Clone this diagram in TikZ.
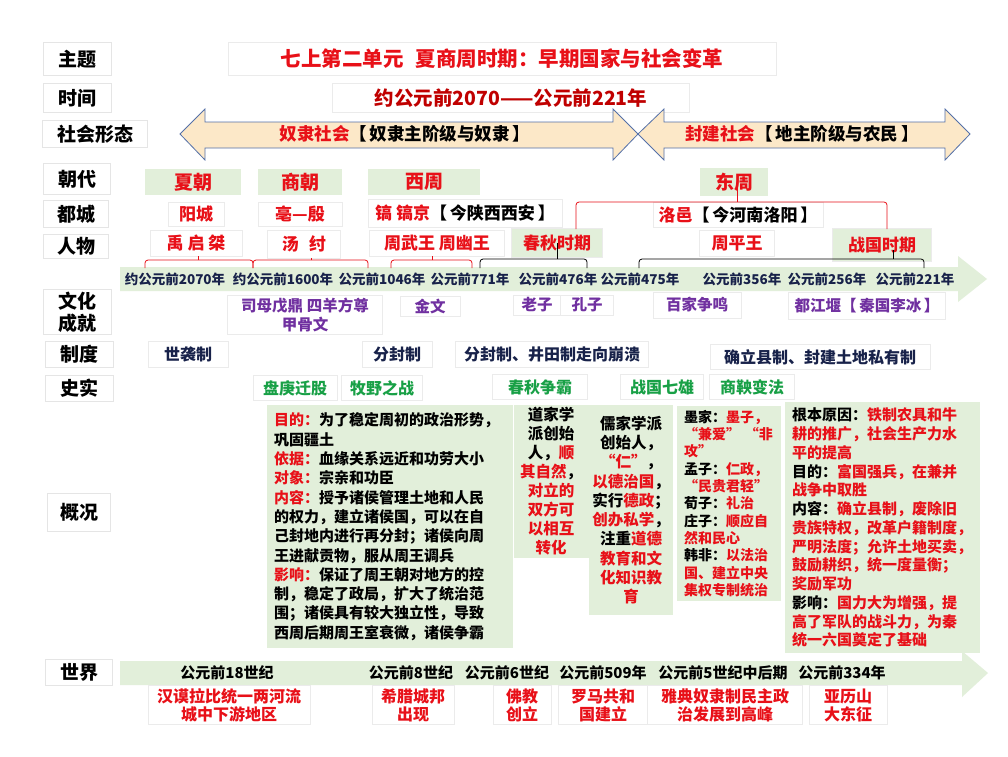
\documentclass[tikz,border=0pt]{standalone}
\usepackage{fontspec}
\setmainfont{Noto Sans CJK SC}
\definecolor{hred}{RGB}{232,16,24}
\definecolor{dred}{RGB}{192,0,0}
\definecolor{hpurple}{RGB}{112,48,160}
\definecolor{hnavy}{RGB}{24,34,74}
\definecolor{hgreen}{RGB}{24,160,70}
\definecolor{lgreen}{RGB}{226,239,218}
\definecolor{lorange}{RGB}{252,232,200}
\definecolor{arrblue}{RGB}{84,112,168}
\tikzset{
  sz/.style 2 args={minimum width=#1, minimum height=#2},
  lab/.style={draw=black!10, fill=white, inner sep=1pt, font=\fontsize{19}{22}\selectfont\bfseries},
  wbox/.style={draw=black!8, fill=white, inner sep=1pt},
  gbox/.style={fill=lgreen, inner sep=1pt},
  dyn/.style={gbox, text=hred, font=\fontsize{19}{21}\selectfont\bfseries},
  capbox/.style={wbox, text=hred, font=\fontsize{17}{19}\selectfont\bfseries},
  cul/.style={wbox, text=hpurple, align=center, font=\fontsize{15.5}{19}\selectfont\bfseries},
  sys/.style={wbox, text=hnavy, font=\fontsize{16}{18}\selectfont\bfseries},
  evt/.style={wbox, text=hgreen, font=\fontsize{16}{18}\selectfont\bfseries},
  wev/.style={wbox, text=hred, align=center, font=\fontsize{16}{18}\selectfont\bfseries},
  tl/.style={text=hnavy, inner sep=0pt, font=\fontsize{13.5}{15}\selectfont\bfseries},
  wtl/.style={text=black, inner sep=0pt, font=\fontsize{15}{17}\selectfont\bfseries},
  txt/.style={fill=lgreen, inner xsep=7pt, inner ysep=4pt, anchor=north west, align=left},
  rbr/.style={hred, line width=0.8pt, rounded corners=3pt},
  kbr/.style={black, line width=0.8pt, rounded corners=3pt},
}
\begin{document}
\begin{tikzpicture}[x=1pt, y=-1pt]
    % 画布
    \fill[white] (0,0) rectangle (1008,756);
    \useasboundingbox (0,0) rectangle (1008,756);

    % 左侧栏目
    \node[lab, sz={68}{33}] (zt) at (77,59) {主题};
    \node[lab, sz={68}{29}] (sj) at (77,98) {时间};
    \node[lab, sz={105}{27}] (shxt) at (95,134) {社会形态};
    \node[lab, sz={67}{31}] (cd) at (77,179) {朝代};
    \node[lab, sz={65}{27}] (dc) at (76,214) {都城};
    \node[lab, sz={65}{24}] (rw) at (76,246) {人物};
    \node[lab, sz={68}{45}, align=center] (whcj) at (77,312) {文化\\成就};
    \node[lab, sz={68}{26}] (zd) at (79,354) {制度};
    \node[lab, sz={68}{26}] (ss) at (79,388) {史实};
    \node[lab, sz={63}{38}] (gk) at (79,512) {概况};
    \node[lab, sz={67}{26}] (sjie) at (79,672) {世界};

    % 主题和时间
    \node[wbox, sz={548}{33}, text=hred, font=\fontsize{20.5}{22}\selectfont\bfseries] (title) at (502,59)
      {七上第二单元\hspace{0.6em}夏商周时期：早期国家与社会变革};
    \node[wbox, sz={357}{29}, text=dred, font=\fontsize{19.5}{21}\selectfont\bfseries] (time) at (511,98)
      {约公元前2070——公元前221年};

    % 社会形态箭头
    \filldraw[fill=lorange, draw=arrblue, line width=0.8pt]
      (180,134) -- (205,109) -- (205,122) -- (613,122) -- (613,109) -- (638,134)
      -- (613,160) -- (613,148) -- (205,148) -- (205,160) -- cycle;
    \filldraw[fill=lorange, draw=arrblue, line width=0.8pt]
      (638,134) -- (664,109) -- (664,122) -- (945,122) -- (945,109) -- (970,134)
      -- (945,160) -- (945,148) -- (664,148) -- (664,160) -- cycle;
    \node[font=\fontsize{17.5}{19}\selectfont\bfseries] (nlsh) at (405,134)
      {\textcolor{hred}{奴隶社会}【\,奴隶主阶级与奴隶\,】};
    \node[font=\fontsize{17.5}{19}\selectfont\bfseries] (fjsh) at (802,134)
      {\textcolor{hred}{封建社会}【\,地主阶级与农民\,】};

    % 时间轴
    \fill[lgreen] (120,267) -- (958,267) -- (958,256) -- (987,279) -- (958,302) -- (958,291) -- (120,291) -- cycle;
    \fill[lgreen] (120,661) -- (962,661) -- (962,651) -- (988,673) -- (962,697) -- (962,685) -- (120,685) -- cycle;

    % 朝代
    \node[dyn, sz={96}{26}] (xia) at (193,182) {夏朝};
    \node[dyn, sz={84}{26}] (shang) at (300,182) {商朝};
    \node[dyn, sz={112}{26}] (xz) at (424,182) {西周};
    \node[dyn, sz={68}{28}] (dz) at (734,182) {东周};

    % 都城
    \node[capbox, sz={56}{24}] (yc) at (196,214) {阳城};
    \node[capbox, sz={84}{24}] (by) at (300,214) {亳—殷};
    \node[capbox, sz={194}{28}, text=black] (hj) at (465,213) {\textcolor{hred}{镐 镐京}【\,今陕西西安\,】};
    \node[capbox, sz={170}{25}, text=black] (ly) at (738,215) {\textcolor{hred}{洛邑}【\,今河南洛阳\,】};

    % 人物
    \node[capbox, sz={92}{26}] (yqj) at (196,243) {禹 启 桀};
    \node[capbox, sz={73}{28}] (tz) at (304,244) {汤\hspace{0.6em}纣};
    \node[capbox, sz={135}{26}] (zw) at (437,243) {周武王 周幽王};
    \node[capbox, gbox, sz={91}{29}] (cq) at (557,243) {春秋时期};
    \node[capbox, sz={75}{26}] (zpw) at (737,243) {周平王};
    \node[capbox, gbox, sz={99}{33}] (zg) at (882,245) {战国时期};

    % 时间节点
    \foreach \x/\t in {175/约公元前2070年, 283/约公元前1600年, 382/公元前1046年,
                       470/公元前771年, 558/公元前476年, 640/公元前475年,
                       742/公元前356年, 827/公元前256年, 915/公元前221年}
    \node[tl] (d\x) at (\x,279) {\t};

    % 括号
    \coordinate (k1a) at (145,268); \coordinate (k1b) at (253,268); \coordinate (k1t) at (198,260);
    \coordinate (k2a) at (253,268); \coordinate (k2b) at (368,268); \coordinate (k2t) at (311,260);
    \coordinate (k3a) at (391,268); \coordinate (k3b) at (472,268); \coordinate (k3t) at (432,260);
    \coordinate (k4a) at (480,268); \coordinate (k4b) at (587,268); \coordinate (k4t) at (557,259);
    \coordinate (k5a) at (639,268); \coordinate (k5b) at (924,268); \coordinate (k5t) at (893,259);
    \coordinate (k6a) at (576,229); \coordinate (k6b) at (887,229); \coordinate (k6t) at (737,202);
    \draw[rbr] (k1a) -- ++(0,-8) -| (k1b);
    \draw[rbr] (k1t) -- (k1t |- yqj.south);
    \draw[rbr] (k2a) -- ++(0,-8) -| (k2b);
    \draw[rbr] (k2t) -- (k2t |- tz.south);
    \draw[rbr] (k3a) -- ++(0,-8) -| (k3b);
    \draw[rbr] (k3t) -- (k3t |- zw.south);
    \draw[kbr] (k4a) -- ++(0,-9) -| (k4b);
    \draw[kbr] (k4t) -- (k4t |- cq.center);
    \draw[kbr] (k5a) -- ++(0,-9) -| (k5b);
    \draw[kbr] (k5t) -- ++(0,-9);
    \draw[rbr] (k6a) -- ++(0,-27) -| (k6b);
    \draw[rbr] (k6t) -- ++(0,-15);

    % 文化成就
    \node[cul, sz={155}{39}] (smw) at (305,315) {司母戊鼎 四羊方尊\\甲骨文};
    \node[cul, sz={60}{20}] (jw) at (430,306) {金文};
    \node[cul, sz={48}{20}] (lz) at (537,305) {老子};
    \node[cul, sz={53}{20}] (kz) at (587,305) {孔子};
    \node[cul, sz={88}{26}] (bjzm) at (697,305) {百家争鸣};
    \node[cul, sz={157}{27}] (djy) at (867,306) {都江堰【\,秦国李冰\,】};

    % 制度
    \node[sys, sz={80}{26}] (sxz) at (188,354) {世袭制};
    \node[sys, sz={70}{26}] (ffz) at (397,354) {分封制};
    \node[sys, sz={193}{26}] (ffbk) at (552,354) {分封制、井田制走向崩溃};
    \node[sys, sz={220}{25}] (qlxz) at (820,357) {确立县制、封建土地私有制};

    % 史实
    \node[evt, sz={84}{25}] (pgqy) at (295,388) {盘庚迁股};
    \node[evt, sz={81}{25}] (myzz) at (382,388) {牧野之战};
    \node[evt, sz={95}{25}] (cqzb) at (540,387) {春秋争霸};
    \node[evt, sz={83}{25}] (zgqx) at (662,387) {战国七雄};
    \node[evt, sz={85}{25}] (sybf) at (752,387) {商鞅变法};

    % 概况
    \node[txt, text width=232, minimum height=243, font=\fontsize{15}{19.3}\selectfont\bfseries] (gk1) at (267,405)
      {\textcolor{hred}{目的：}为了稳定周初的政治形势，\\
       巩固疆土\\
       \textcolor{hred}{依据：}血缘关系远近和功劳大小\\
       \textcolor{hred}{对象：}宗亲和功臣\\
       \textcolor{hred}{内容：}授予诸侯管理土地和人民\\
       的权力，建立诸侯国，可以在自\\
       己封地内进行再分封；诸侯向周\\
       王进献贡物，服从周王调兵\\
       \textcolor{hred}{影响：}保证了周王朝对地方的控\\
       制，稳定了政局，扩大了统治范\\
       围；诸侯具有较大独立性，导致\\
       西周后期周王室衰微，诸侯争霸};
    \node[gbox, sz={75}{153}, align=center, font=\fontsize{15.5}{19}\selectfont\bfseries] (gk2) at (551,481)
      {道家学\\派创始\\人，\textcolor{hred}{顺}\\\textcolor{hred}{其自然}，\\
       \textcolor{hred}{对立的}\\\textcolor{hred}{双方可}\\\textcolor{hred}{以相互}\\\textcolor{hred}{转化}};
    \node[gbox, sz={84}{210}, align=center, font=\fontsize{15.5}{19.3}\selectfont\bfseries] (gk3) at (631,510)
      {儒家学派\\创始人，\\\textcolor{hred}{“仁”}，\\\textcolor{hred}{以德治国}，\\
       实行\textcolor{hred}{德政}；\\\textcolor{hred}{创办私学}，\\注重\textcolor{hred}{道德}\\
       \textcolor{hred}{教育和文}\\\textcolor{hred}{化知识教}\\\textcolor{hred}{育}};
    \node[txt, text width=90, minimum height=194, font=\fontsize{14}{17.3}\selectfont\bfseries] (gk4) at (677,406)
      {墨家：\textcolor{hred}{墨子，}\\
       \textcolor{hred}{“兼爱”\ “非}\\
       \textcolor{hred}{攻”}\\
       孟子：\textcolor{hred}{仁政，}\\
       \textcolor{hred}{“民贵君轻”}\\
       荀子：\textcolor{hred}{礼治}\\
       庄子：\textcolor{hred}{顺应自}\\
       \textcolor{hred}{然和民心}\\
       韩非：\textcolor{hred}{以法治}\\
       \textcolor{hred}{国、建立中央}\\
       \textcolor{hred}{集权专制统治}};
    \node[txt, text width=181, minimum height=251, font=\fontsize{15}{18.75}\selectfont\bfseries] (gk5) at (785,402)
      {根本原因：\textcolor{hred}{铁制农具和牛}\\
       \textcolor{hred}{耕的推广，社会生产力水}\\
       \textcolor{hred}{平的提高}\\
       目的：\textcolor{hred}{富国强兵，在兼并}\\
       \textcolor{hred}{战争中取胜}\\
       内容：\textcolor{hred}{确立县制，废除旧}\\
       \textcolor{hred}{贵族特权，改革户籍制度，}\\
       \textcolor{hred}{严明法度；允许土地买卖，}\\
       \textcolor{hred}{鼓励耕织，统一度量衡；}\\
       \textcolor{hred}{奖励军功}\\
       影响：\textcolor{hred}{国力大为增强，提}\\
       \textcolor{hred}{高了军队的战斗力，为秦}\\
       \textcolor{hred}{统一六国奠定了基础}};

    % 世界
    \foreach \x/\t in {227/公元前18世纪, 411/公元前8世纪, 507/公元前6世纪,
                       603/公元前509年, 723/公元前5世纪中后期, 842/公元前334年}
    \node[wtl] (w\x) at (\x,673) {\t};
    \node[wev, sz={162}{39}] (hml) at (229,705) {汉谟拉比统一两河流\\城中下游地区};
    \node[wev, sz={82}{39}] (xlcb) at (413,705) {希腊城邦\\出现};
    \node[wev, sz={58}{39}] (fjcl) at (522,705) {佛教\\创立};
    \node[wev, sz={89}{39}] (lmgh) at (603,705) {罗马共和\\国建立};
    \node[wev, sz={155}{39}] (ydms) at (725,705) {雅典奴隶制民主政\\治发展到高峰};
    \node[wev, sz={78}{39}] (ylsd) at (848,705) {亚历山\\大东征};
\end{tikzpicture}
\end{document}
